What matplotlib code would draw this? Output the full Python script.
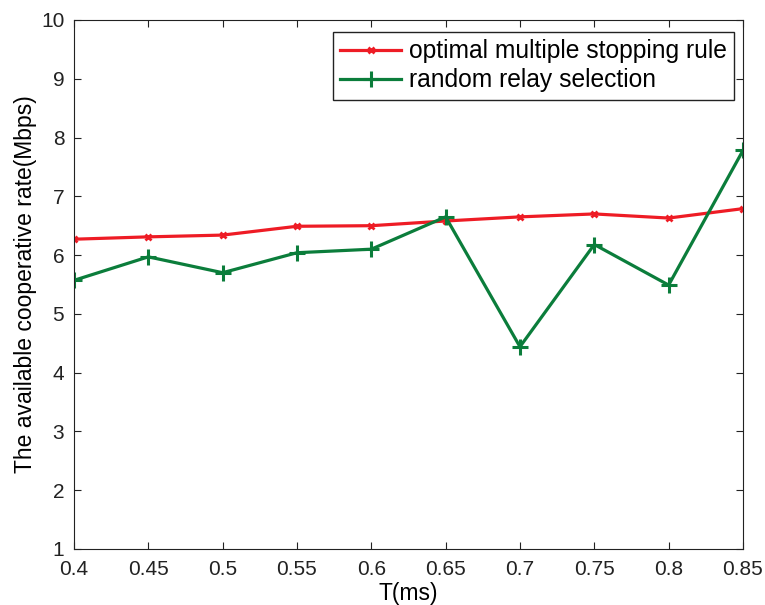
import matplotlib
matplotlib.use('Agg')
import matplotlib.pyplot as plt

T = [0.4, 0.45, 0.5, 0.55, 0.6, 0.65, 0.7, 0.75, 0.8, 0.85]
optimal = [6.27, 6.31, 6.34, 6.49, 6.50, 6.58, 6.65, 6.70, 6.63, 6.79]
random_sel = [5.57, 5.97, 5.70, 6.04, 6.10, 6.65, 4.44, 6.18, 5.49, 7.78]

plt.rcParams['font.family'] = ['Liberation Sans', 'DejaVu Sans']

fig = plt.figure(figsize=(7.65, 6.05), dpi=100)
ax = fig.add_axes([0.0967, 0.0926, 0.8745, 0.8744])

ax.plot(T, optimal, color='#ee1c25', lw=2.3, marker='x', ms=5, mew=2,
        label='optimal multiple stopping rule')
ax.plot(T, random_sel, color='#0b7d3b', lw=2.3, marker='+', ms=11, mew=2.2,
        label='random relay selection')

ax.set_xlim(0.4, 0.85)
ax.set_ylim(1, 10)
ax.set_xticks(T)
ax.set_xticklabels(['0.4', '0.45', '0.5', '0.55', '0.6', '0.65', '0.7', '0.75', '0.8', '0.85'])
ax.set_yticks(range(1, 11))
ax.tick_params(direction='in', top=True, right=True, labelsize=15, length=5,
               colors='#222222')
ax.tick_params(axis='x', pad=8)
ax.tick_params(axis='y', pad=7)
ax.set_xlabel('T(ms)', fontsize=16.5, labelpad=2)
ax.set_ylabel('The available cooperative rate(Mbps)', fontsize=16.5, labelpad=3)
for s in ax.spines.values():
    s.set_color('#222222')

# legend corner at about (734, 32) px of the 765x605 picture
leg = ax.legend(loc='upper right', bbox_to_anchor=(734 / 765, 1 - 32 / 605),
                bbox_transform=fig.transFigure, borderaxespad=0,
                fontsize=17.7, fancybox=False, framealpha=1,
                edgecolor='#222222', handlelength=2.5, handletextpad=0.3,
                labelspacing=0.2, borderpad=0.3)
leg.get_frame().set_linewidth(1)

fig.savefig('out.png', dpi=100)
